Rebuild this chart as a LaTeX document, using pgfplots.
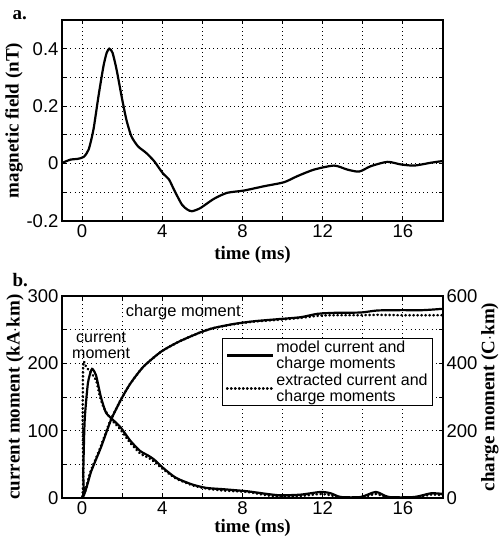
\documentclass[border=0pt]{standalone}
\usepackage{fontspec}
\setmainfont{Liberation Serif}
\setsansfont{Liberation Sans}
\usepackage{pgfplots}
\pgfplotsset{compat=1.18}

\pgfplotsset{
  panel/.style={
    scale only axis, width=381pt,
    xmin=-1, xmax=18,
    axis line style={line width=1.2pt},
    tick style={black, line width=0.8pt},
    tick align=inside, major tick length=4pt,
    ticklabel style={font=\sffamily\fontsize{18.5}{18.5}\selectfont},
    label style={font=\bfseries\fontsize{19}{19}\selectfont},
    grid style={black, line width=0.9pt, dash pattern=on 1pt off 3.2pt},
    xtick={0,2,...,18}, xticklabels={0,,4,,8,,12,,16,},
    xlabel={time (ms)},
  },
  model/.style={black, line width=2.2pt, smooth, tension=0.4},
  extracted/.style={black, line width=2.6pt, line cap=round, dash pattern=on 0.4pt off 3.6pt, smooth, tension=0.4},
}

\begin{document}
\begin{tikzpicture}

% a. magnetic field
\begin{axis}[panel,
  at={(62pt,315pt)}, anchor=south west, height=201pt,
  ymin=-0.2, ymax=0.5,
  ytick={-0.2,-0.1,0,0.1,0.2,0.3,0.4,0.5},
  yticklabels={-0.2,,0,,0.2,,0.4,},
  ylabel={magnetic field (nT)},
  ylabel style={yshift=-3pt},
  xlabel style={yshift=-2pt},
  grid=major,
]
\addplot[model] coordinates {
  (-1,0.002) (-0.57,0.014) (-0.25,0.016) (0.08,0.023) (0.33,0.049)
  (0.57,0.119) (0.82,0.235) (1.07,0.34) (1.23,0.386) (1.36,0.4)
  (1.52,0.386) (1.72,0.328) (1.97,0.235) (2.21,0.153) (2.46,0.095)
  (2.79,0.06) (3.2,0.037) (3.6,0.008) (4.02,-0.033) (4.34,-0.056)
  (4.6,-0.093) (4.98,-0.143) (5.25,-0.16) (5.48,-0.166) (5.9,-0.155)
  (6.57,-0.123) (7.23,-0.102) (8.07,-0.094) (9.07,-0.079) (10.07,-0.065)
  (10.73,-0.044) (11.57,-0.021) (12.57,-0.007) (13.23,-0.021) (13.82,-0.028)
  (14.4,-0.009) (15.23,0.006) (15.9,-0.003) (16.57,-0.007) (17.4,0.003)
  (18,0.009)
};
\end{axis}

% b. current moment (left axis)
\begin{axis}[panel,
  at={(62pt,38pt)}, anchor=south west, height=202pt,
  ymin=0, ymax=300,
  ytick={0,50,...,300},
  yticklabels={0,,100,,200,,300},
  ytick pos=left,
  ylabel={current moment (kA$\cdot$km)},
  ylabel style={yshift=-3pt},
  xlabel style={yshift=2pt},
  grid=major,
]
\addplot[model] coordinates {
  (-1,0) (0.02,0) (0.06,40) (0.13,115) (0.29,170) (0.46,190) (0.54,191)
  (0.7,182) (0.94,150) (1.19,127) (1.51,117) (1.92,105) (2.41,85)
  (2.89,70) (3.3,63) (3.6,57) (4.03,45) (4.68,30) (5.5,20) (6.2,15)
  (7.07,13) (8.23,10) (9.23,6) (9.9,4) (10.9,5) (11.9,9) (12.4,7)
  (12.9,1.5) (13.9,1.5) (14.65,9) (15.3,1.5) (16.57,1.5) (17.4,7) (18,6)
};
\addplot[extracted] coordinates {
  (-1,0) (0,0) (0.03,120) (0.06,200) (0.2,195) (0.46,185) (0.7,175)
  (0.9,150) (1.1,133) (1.45,117) (1.9,102) (2.4,82) (2.9,66) (3.3,60)
  (3.6,54) (4.03,43) (4.68,29) (5.5,19) (6.2,14) (7.07,11) (8.23,9)
  (9.23,4) (9.9,2) (10.9,3) (11.9,6) (12.4,4) (12.9,0.5) (13.9,0.5)
  (14.65,6) (15.3,0.5) (16.57,0.5) (17.4,5) (18,4)
};
\node[font=\sffamily\fontsize{16.5}{16}\selectfont] at (axis cs:5.05,276.6) {charge moment};
\node[font=\sffamily\fontsize{16}{16}\selectfont, align=center, inner sep=0pt] at (axis cs:0.95,226) {current\\moment};
\end{axis}

% b. charge moment (right axis)
\begin{axis}[panel,
  at={(62pt,38pt)}, anchor=south west, height=202pt,
  axis x line=none, axis y line*=right,
  ymin=0, ymax=600,
  ytick={0,100,...,600},
  yticklabels={0,,200,,400,,600},
  ylabel={charge moment (C$\cdot$km)},
  ylabel style={yshift=3pt},
  legend style={at={(0.974,0.79)}, anchor=north east, draw=black,
    line width=1pt, font=\sffamily\fontsize{16}{16}\selectfont,
    cells={align=left}, inner xsep=3pt, inner ysep=0pt, row sep=0pt},
  legend cell align=left,
  legend image code/.code={\draw[#1] (0pt,0pt) -- (46pt,0pt);},
]
\addplot[model] coordinates {
  (-1,0) (0,0) (0.46,80) (0.94,150) (1.43,230) (1.92,290) (2.41,340)
  (3.06,390) (3.95,435) (4.85,465) (5.9,492) (6.57,505) (7.57,517)
  (8.57,525) (9.73,531) (10.9,537) (11.73,547) (12.57,550) (13.9,551)
  (14.73,557) (15.9,558) (17,558) (18,562)
};
\addlegendentry{model current and\\charge moments}
\addplot[extracted] coordinates {
  (-1,0) (0,0) (0.4,75) (0.9,148) (1.4,228) (1.92,290) (2.41,340)
  (3.06,390) (3.95,435) (4.85,465) (5.9,492) (6.57,505) (7.57,516)
  (8.57,524) (9.73,529) (10.9,535) (11.73,541) (12.57,543) (13.9,543)
  (14.73,544) (15.9,543) (18,543)
};
\addlegendentry{extracted current and\\charge moments}
\end{axis}

\node[anchor=west, font=\bfseries\fontsize{19}{19}\selectfont] at (9pt,521pt) {a.};
\node[anchor=west, font=\bfseries\fontsize{19}{19}\selectfont] at (9pt,256pt) {b.};

\pgfresetboundingbox
\useasboundingbox (0,0) rectangle (502pt,536pt);
\end{tikzpicture}
\end{document}
